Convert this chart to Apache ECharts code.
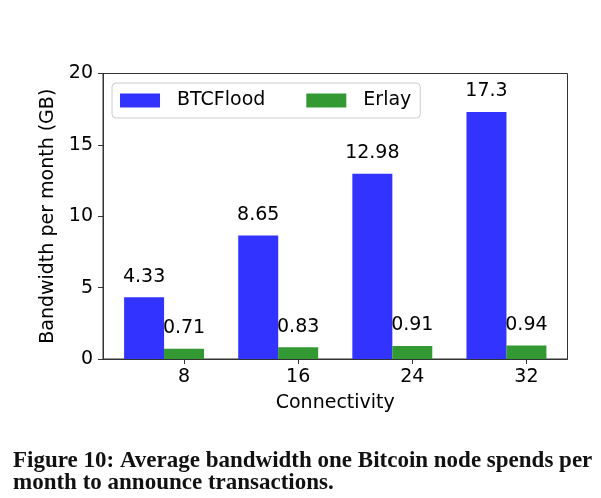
<!DOCTYPE html>
<html>
<head>
<meta charset="utf-8">
<script src="https://cdn.jsdelivr.net/npm/echarts@6/dist/echarts.min.js"></script>
<style>
  html, body { margin: 0; padding: 0; background: #fff; }
  #main { width: 601px; height: 498px; }
</style>
</head>
<body>
<div id="main"></div>
<script>
// data
const connectivity = ['8', '16', '24', '32'];
const btcflood = [4.33, 8.65, 12.98, 17.3];
const erlay = [0.71, 0.83, 0.91, 0.94];
const yTicks = [0, 5, 10, 15, 20];

// matplotlib-style layout: BTCFlood bar left of the tick, Erlay bar on the tick
const W = 0.35;
const idx = connectivity.map((c, i) => i);

const chart = echarts.init(document.getElementById('main'));
const font = 'DejaVu Sans';
const fs = 19;

chart.setOption({
  animation: false,
  backgroundColor: '#fff',
  textStyle: { fontFamily: font },
  grid: {
    left: 103, right: 33.5, top: 73.5, bottom: 139,
    show: true, borderColor: '#333', borderWidth: 1
  },
  legend: {
    left: 112, top: 83,
    icon: 'rect', itemWidth: 40, itemHeight: 14, itemGap: 41,
    padding: [8, 9, 8, 8],
    borderColor: '#ccc', borderWidth: 1, borderRadius: 4,
    backgroundColor: '#fff',
    textStyle: { fontSize: fs, color: '#000', fontFamily: font, padding: [0, 0, 0, 12] },
    data: ['BTCFlood', 'Erlay']
  },
  xAxis: {
    type: 'value',
    min: -0.525 - 0.185, max: 3.175 + 0.185,
    name: 'Connectivity', nameLocation: 'middle', nameGap: 35,
    nameTextStyle: { fontSize: fs, color: '#000', fontFamily: font },
    splitLine: { show: false },
    axisLine: { show: true, lineStyle: { color: '#333' } },
    axisTick: { show: true, customValues: idx, length: 5, lineStyle: { color: '#333' } },
    axisLabel: {
      customValues: idx, fontSize: fs, color: '#000', margin: 9,
      formatter: v => connectivity[Math.round(v)]
    }
  },
  yAxis: {
    type: 'value', min: 0, max: 20, interval: 5,
    name: 'Bandwidth per month (GB)', nameLocation: 'middle', nameGap: 43,
    nameTextStyle: { fontSize: fs, color: '#000', fontFamily: font },
    splitLine: { show: false },
    axisLine: { show: true, onZero: false, lineStyle: { color: '#333' } },
    axisTick: { show: true, length: 5, lineStyle: { color: '#333' } },
    axisLabel: { fontSize: fs, color: '#000', margin: 10,
      formatter: v => yTicks.includes(v) ? String(v) : '' }
  },
  series: [
    {
      name: 'BTCFlood', type: 'bar', barWidth: 40, barGap: '-100%',
      itemStyle: { color: '#3333ff' },
      label: { show: true, position: 'top', distance: 11, fontSize: fs, color: '#000',
        formatter: p => String(p.value[1]) },
      data: idx.map(i => [i - W, btcflood[i]])
    },
    {
      name: 'Erlay', type: 'bar', barWidth: 40, barGap: '-100%',
      itemStyle: { color: '#339933' },
      label: { show: true, position: 'top', distance: 11, fontSize: fs, color: '#000',
        formatter: p => String(p.value[1]) },
      data: idx.map(i => [i, erlay[i]])
    }
  ],
  graphic: [
    {
      type: 'text', left: 13, top: 450,
      style: {
        text: 'Figure 10: Average bandwidth one Bitcoin node spends per\nmonth to announce transactions.',
        font: 'bold 23px "Liberation Serif"', fill: '#111', lineHeight: 22
      }
    }
  ]
});
</script>
</body>
</html>
